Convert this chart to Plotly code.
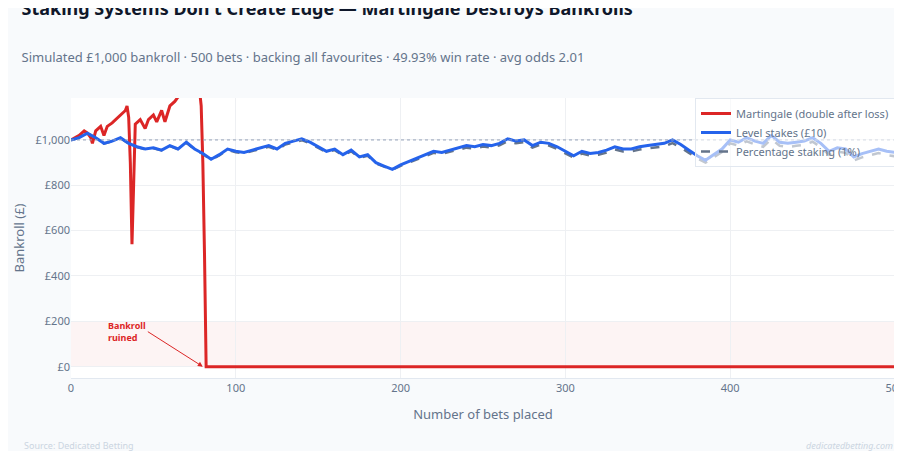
import plotly.graph_objects as go

# Level stakes (£10) bankroll, sampled every 5 bets
level_x = list(range(0, 505, 5))
level_vals = [1000, 1010, 1030, 1010, 985, 995, 1010, 985, 970, 960,
              965, 955, 975, 960, 990, 960, 940, 915, 935, 960,
              950, 945, 955, 965, 975, 960, 985, 995, 1005, 990,
              970, 950, 960, 935, 955, 925, 935, 900, 885, 870,
              890, 905, 920, 935, 950, 945, 955, 965, 975, 970,
              980, 975, 985, 1005, 995, 1000, 975, 990, 985, 970,
              950, 930, 950, 940, 945, 955, 970, 960, 960, 970,
              975, 980, 985, 1000, 980, 955, 930, 910, 935, 960,
              1000, 990, 1010, 995, 985, 1020, 990, 985, 990, 995,
              1010, 985, 950, 965, 960, 925, 940, 950, 960, 950, 945]
# Percentage staking (1%) tracks slightly below
pct_vals = [1000, 1009, 1029, 1009, 984, 994, 1008, 984, 969, 959,
            963, 954, 973, 958, 987, 958, 938, 913, 932, 956,
            946, 941, 951, 961, 970, 956, 980, 989, 999, 985,
            965, 946, 955, 931, 950, 921, 930, 897, 882, 868,
            886, 900, 915, 929, 943, 939, 948, 957, 966, 962,
            971, 966, 976, 994, 985, 990, 966, 980, 975, 960,
            941, 922, 940, 931, 935, 944, 958, 949, 949, 958,
            963, 968, 972, 986, 967, 943, 919, 900, 923, 947,
            985, 975, 994, 980, 970, 1003, 974, 969, 974, 978,
            992, 968, 934, 948, 943, 909, 923, 932, 942, 933, 928]

# Martingale (double after loss)
mart_x = [0, 5, 8, 10, 12, 13, 15, 18, 20, 22, 25, 30, 33, 34, 35, 36, 37, 38, 39,
          42, 45, 47, 50, 52, 55, 57, 60, 63, 65, 70, 75, 78, 79, 80, 81, 82, 500]
mart_vals = [1000, 1020, 1040, 1030, 1010, 985, 1040, 1060, 1020, 1060, 1075, 1110,
             1130, 1150, 1100, 900, 540, 800, 1070, 1090, 1050, 1090, 1110, 1080,
             1130, 1080, 1150, 1170, 1190, 1200, 1210, 1220, 1150, 900, 500, 0, 0]

fig = go.Figure()
fig.add_hrect(y0=0, y1=200, fillcolor="rgba(220,38,38,0.05)", line_width=0, layer="below")
fig.add_hline(y=1000, line=dict(color="#94a3b8", width=1, dash="dot"))

fig.add_trace(go.Scatter(x=mart_x, y=mart_vals, mode="lines", name="Martingale (double after loss)",
                         line=dict(color="#dc2626", width=3), legendrank=1))
fig.add_trace(go.Scatter(x=level_x, y=pct_vals, mode="lines", name="Percentage staking (1%)",
                         line=dict(color="#64748b", width=2.5, dash="dash"), legendrank=3))
fig.add_trace(go.Scatter(x=level_x, y=level_vals, mode="lines", name="Level stakes (£10)",
                         line=dict(color="#2563eb", width=3), legendrank=2))

fig.add_annotation(x=80, y=0, ax=-55, ay=-35, text="<b>Bankroll<br>ruined</b>", showarrow=True,
                   arrowhead=2, arrowsize=1, arrowwidth=1, arrowcolor="#dc2626",
                   font=dict(size=9, color="#dc2626"), align="left", xanchor="right")

fig.update_layout(
    width=902, height=451,
    paper_bgcolor="#f8fafc", plot_bgcolor="white",
    font=dict(family="Noto Sans, sans-serif", color="#64748b", size=11),
    title=dict(text="<b>Staking Systems Don't Create Edge — Martingale Destroys Bankrolls</b>"
                    "<br><br><span style='font-size:13px;color:#64748b'>Simulated £1,000 bankroll · 500 bets · "
                    "backing all favourites · 49.93% win rate · avg odds 2.01</span>",
               x=0.015, xanchor="left", y=0.985, yanchor="top", font=dict(size=18, color="#0f172a")),
    margin=dict(l=63, r=15, t=90, b=81, autoexpand=False),
    xaxis=dict(title="Number of bets placed", range=[0, 500], gridcolor="#eef0f3", automargin=False,
               zeroline=False, tickvals=[0, 100, 200, 300, 400, 500], showline=True, linecolor="#e2e8f0"),
    yaxis=dict(title=dict(text="Bankroll (£)", standoff=8), range=[-50, 1185], gridcolor="#eef0f3",
               zeroline=False, automargin=False,
               tickvals=[0, 200, 400, 600, 800, 1000],
               ticktext=["£0", "£200", "£400", "£600", "£800", "£1,000"]),
    legend=dict(x=1, y=1, xanchor="right", yanchor="top", bgcolor="rgba(255,255,255,0.6)",
                bordercolor="#e2e8f0", borderwidth=1, font=dict(size=11, color="#64748b")),
)
fig.add_annotation(text="Source: Dedicated Betting", xref="paper", yref="paper", x=-0.06, y=-0.27,
                   showarrow=False, xanchor="left", font=dict(size=9, color="#cbd5e1"))
fig.add_annotation(text="<i>dedicatedbetting.com</i>", xref="paper", yref="paper", x=1.0, y=-0.27,
                   showarrow=False, xanchor="right", font=dict(size=9, color="#cbd5e1"))

fig.write_html("out.html")
